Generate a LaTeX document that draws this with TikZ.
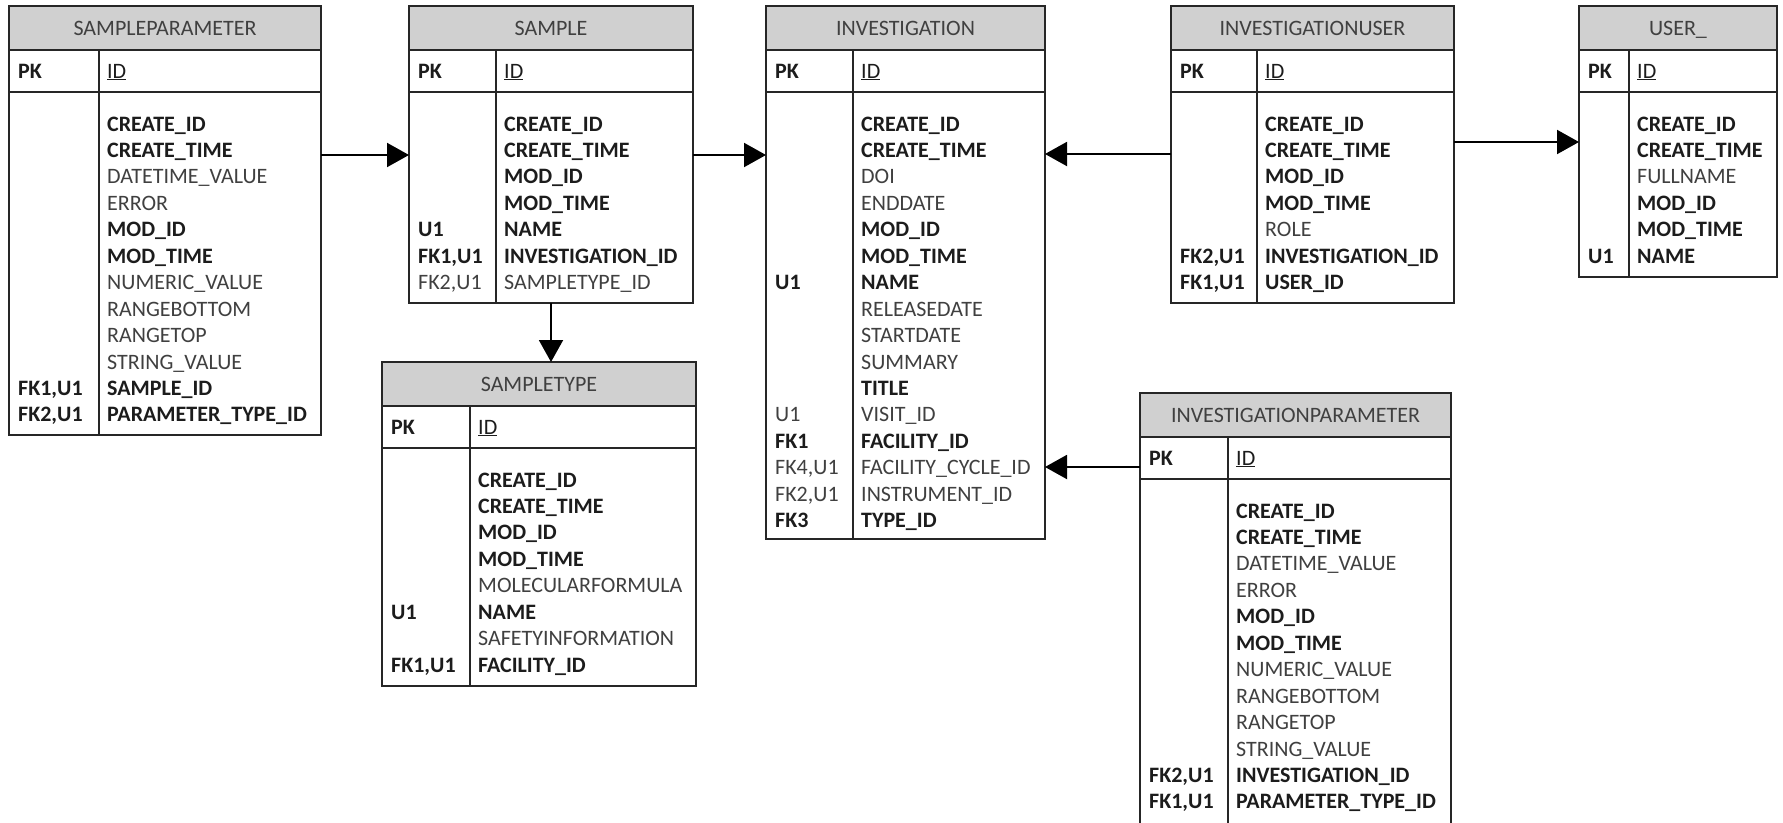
\documentclass[tikz,border=0pt]{standalone}
\usepackage{fontspec}
\setmainfont{Carlito}
\usetikzlibrary{arrows.meta}
\definecolor{hdr}{RGB}{208,208,208}
\definecolor{bdr}{RGB}{38,38,38}
\definecolor{txtb}{RGB}{28,28,28}
\definecolor{txtr}{RGB}{64,64,64}
\newcommand\fsty[1]{\ifnum#1=1 \bfseries\color{txtb}\else\color{txtr}\fi}
\tikzset{
  tbox/.style={draw=bdr, line width=1.8pt},
  hbox/.style={draw=bdr, line width=1.8pt, fill=hdr},
  ttl/.style={inner sep=0, anchor=base, text=txtr, font=\fontsize{22}{26}\selectfont},
  fld/.style={inner sep=0, anchor=base west, font=\fontsize{22}{26}\selectfont},
  conn/.style={draw=black, line width=2pt, -{Triangle[length=22pt,width=24pt]}},
}
% #1 name, #2 xl, #3 xr, #4 xdiv, #5 ytop, #6 ybottom, #7 title, #8 rows
\newcommand\ertab[8]{%
  \path[hbox] (#2,#5) rectangle (#3,#5+44);
  \node[tbox, inner sep=0, outer sep=0, anchor=north west,
        minimum width={(#3-#2)*1pt}, minimum height={(#6-#5)*1pt}] (#1) at (#2,#5) {};
  \draw[tbox] (#2,#5+86) -- (#3,#5+86);
  \draw[tbox] (#4,#5+44) -- (#4,#6);
  \node[ttl] (#1t) at ({(#2+#3)/2},#5+29) {#7};
  \node[fld] (#1pk) at (#2+9,#5+72) {\fsty{1}PK};
  \node[fld] (#1id) at (#4+8,#5+72) {\fsty{1}\mdseries\underline{ID}};
  \foreach \la/\ra/\bb [count=\i from 0] in {#8} {
    \node[fld] (#1l\i) at (#2+9,#5+125+\i*26.45) {\fsty{\bb}\la};
    \node[fld] (#1r\i) at (#4+8,#5+125+\i*26.45) {\fsty{\bb}\ra};
  }
}
\begin{document}
\begin{tikzpicture}[x=1pt,y=-1pt]
\useasboundingbox (0,0) rectangle (1783,822);
\fill[white] (0,0) rectangle (1783,822);

\ertab{sp}{9}{321}{99}{6}{435}{SAMPLEPARAMETER}{{}/CREATE\_ID/1, {}/CREATE\_TIME/1, {}/DATETIME\_VALUE/0, {}/ERROR/0, {}/MOD\_ID/1, {}/MOD\_TIME/1, {}/NUMERIC\_VALUE/0, {}/RANGEBOTTOM/0, {}/RANGETOP/0, {}/STRING\_VALUE/0, {FK1,U1}/SAMPLE\_ID/1, {FK2,U1}/PARAMETER\_TYPE\_ID/1}

\ertab{s}{409}{693}{496}{6}{303}{SAMPLE}{{}/CREATE\_ID/1, {}/CREATE\_TIME/1, {}/MOD\_ID/1, {}/MOD\_TIME/1, U1/NAME/1, {FK1,U1}/INVESTIGATION\_ID/1, {FK2,U1}/SAMPLETYPE\_ID/0}

\ertab{st}{382}{696}{470}{362}{686}{SAMPLETYPE}{{}/CREATE\_ID/1, {}/CREATE\_TIME/1, {}/MOD\_ID/1, {}/MOD\_TIME/1, {}/MOLECULARFORMULA/0, U1/NAME/1, {}/SAFETYINFORMATION/0, {FK1,U1}/FACILITY\_ID/1}

\ertab{inv}{766}{1045}{853}{6}{539}{INVESTIGATION}{{}/CREATE\_ID/1, {}/CREATE\_TIME/1, {}/DOI/0, {}/ENDDATE/0, {}/MOD\_ID/1, {}/MOD\_TIME/1, U1/NAME/1, {}/RELEASEDATE/0, {}/STARTDATE/0, {}/SUMMARY/0, {}/TITLE/1, U1/VISIT\_ID/0, FK1/FACILITY\_ID/1, {FK4,U1}/FACILITY\_CYCLE\_ID/0, {FK2,U1}/INSTRUMENT\_ID/0, FK3/TYPE\_ID/1}

\ertab{iu}{1171}{1454}{1257}{6}{303}{INVESTIGATIONUSER}{{}/CREATE\_ID/1, {}/CREATE\_TIME/1, {}/MOD\_ID/1, {}/MOD\_TIME/1, {}/ROLE/0, {FK2,U1}/INVESTIGATION\_ID/1, {FK1,U1}/USER\_ID/1}

\ertab{u}{1579}{1777}{1629}{6}{277}{USER\_}{{}/CREATE\_ID/1, {}/CREATE\_TIME/1, {}/FULLNAME/0, {}/MOD\_ID/1, {}/MOD\_TIME/1, U1/NAME/1}

\ertab{ip}{1140}{1451}{1228}{393}{826}{INVESTIGATIONPARAMETER}{{}/CREATE\_ID/1, {}/CREATE\_TIME/1, {}/DATETIME\_VALUE/0, {}/ERROR/0, {}/MOD\_ID/1, {}/MOD\_TIME/1, {}/NUMERIC\_VALUE/0, {}/RANGEBOTTOM/0, {}/RANGETOP/0, {}/STRING\_VALUE/0, {FK2,U1}/INVESTIGATION\_ID/1, {FK1,U1}/PARAMETER\_TYPE\_ID/1}

\coordinate (y155) at (0,155);
\coordinate (y154) at (0,154);
\coordinate (y142) at (0,142);
\coordinate (y467) at (0,467);
\coordinate (x551) at (551,0);

\draw[conn] (sp.east |- y155) -- (s.west |- y155);
\draw[conn] (s.east |- y155) -- (inv.west |- y155);
\draw[conn] (iu.west |- y154) -- (inv.east |- y154);
\draw[conn] (iu.east |- y142) -- (u.west |- y142);
\draw[conn] (ip.west |- y467) -- (inv.east |- y467);
\draw[conn] (s.south -| x551) -- (st.north -| x551);
\end{tikzpicture}
\end{document}
